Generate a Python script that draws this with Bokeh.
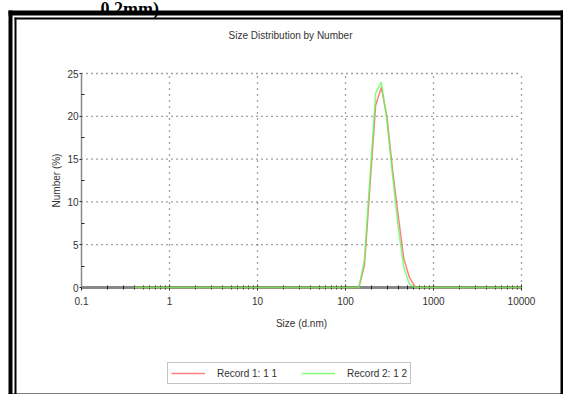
from bokeh.plotting import figure
from bokeh.models import (FixedTicker, CustomJSTickFormatter, Legend, LegendItem,
                          Label, Range1d, ColumnDataSource, BoxAnnotation)
from bokeh.embed import file_html
from bokeh.resources import INLINE

# Size bins (d.nm)
sizes = [0.4, 0.4632, 0.5365, 0.6213, 0.7195, 0.8332, 0.9649, 1.117, 1.294, 1.499,
         1.736, 2.010, 2.328, 2.696, 3.122, 3.615, 4.187, 4.849, 5.615, 6.503,
         7.531, 8.721, 10.10, 11.70, 13.54, 15.69, 18.17, 21.04, 24.36, 28.21,
         32.67, 37.84, 43.82, 50.75, 58.77, 68.06, 78.82, 91.28, 105.7, 122.4,
         141.8, 164.2, 190.1, 220.2, 255.0, 295.3, 342.0, 396.1, 458.7, 531.2,
         615.1, 712.4, 825.0, 955.4, 1106, 1281, 1484, 1718, 1990, 2305,
         2669, 3091, 3580, 4145, 4801, 5560, 6439, 7456, 8635, 10000]

record1 = [0, 0, 0, 0, 0, 0, 0, 0, 0, 0,
           0, 0, 0, 0, 0, 0, 0, 0, 0, 0,
           0, 0, 0, 0, 0, 0, 0, 0, 0, 0,
           0, 0, 0, 0, 0, 0, 0, 0, 0, 0,
           0, 2.6, 12.0, 21.3, 23.4, 20.0, 13.8, 8.5, 3.4, 1.2,
           0.1, 0, 0, 0, 0, 0, 0, 0, 0, 0,
           0, 0, 0, 0, 0, 0, 0, 0, 0, 0]

record2 = [0, 0, 0, 0, 0, 0, 0, 0, 0, 0,
           0, 0, 0, 0, 0, 0, 0, 0, 0, 0,
           0, 0, 0, 0, 0, 0, 0, 0, 0, 0,
           0, 0, 0, 0, 0, 0, 0, 0, 0, 0,
           0, 3.2, 13.0, 22.7, 24.0, 19.5, 13.2, 7.1, 2.4, 0.4,
           0, 0, 0, 0, 0, 0, 0, 0, 0, 0,
           0, 0, 0, 0, 0, 0, 0, 0, 0, 0]

series_labels = ["Record 1: 1 1", "Record 2: 1 2"]
x_ticks = [0.1, 1, 10, 100, 1000, 10000]
y_ticks = [0, 5, 10, 15, 20, 25]
y_minor = [2.5, 7.5, 12.5, 17.5, 22.5]
x_minor = [m * d for d in [0.1, 1, 10, 100, 1000] for m in range(2, 10)]

FONT = "Liberation Sans"
TXT = "#333333"

# layout (pixels): plotting box of the reference inside the 563x394 canvas
W, H = 563, 394
BOX_L, BOX_R, BOX_T, BOX_B = 81, 521, 73, 287
n_dec = len(x_ticks) - 1
px_dec = (BOX_R - BOX_L) / n_dec
px_unit = (BOX_B - BOX_T) / (y_ticks[-1] - y_ticks[0])
x_start = x_ticks[0] * 10 ** (-BOX_L / px_dec)
x_end = x_ticks[-1] * 10 ** ((W - BOX_R) / px_dec)
y_start = y_ticks[0] - (H - BOX_B) / px_unit
y_end = y_ticks[-1] + BOX_T / px_unit

src = ColumnDataSource(dict(size=sizes, r1=record1, r2=record2))

p = figure(width=W, height=H, x_axis_type="log",
           x_range=Range1d(x_start, x_end), y_range=Range1d(y_start, y_end),
           output_backend="svg", toolbar_location=None,
           min_border_left=0, min_border_right=0, min_border_top=0, min_border_bottom=0)
p.outline_line_color = None
p.background_fill_color = "white"
p.border_fill_color = "white"
p.xgrid.visible = False
p.ygrid.visible = False

# dotted grid lines inside the 0..25 / 0.1..10000 box
gx = x_ticks[1:]
p.segment(x0=gx, y0=[y_ticks[0]] * len(gx), x1=gx, y1=[y_ticks[-1]] * len(gx),
          line_color="#444444", line_dash="1 5", line_width=1.3)
gy = y_ticks[1:]
p.segment(x0=[x_ticks[0]] * len(gy), y0=gy, x1=[x_ticks[-1]] * len(gy), y1=gy,
          line_color="#444444", line_dash="1 4", line_width=1.3)

r1 = p.line("size", "r1", source=src, line_color="#ff5555", line_width=1.5, line_alpha=0.75)
r2 = p.line("size", "r2", source=src, line_color="#55ff55", line_width=1.5, line_alpha=0.75)

# x axis at y = 0
xa = p.xaxis[0]
xa.fixed_location = 0
xa.bounds = (x_ticks[0], x_ticks[-1])
xa.level = "underlay"
xa.ticker = FixedTicker(ticks=x_ticks, minor_ticks=x_minor)
xa.formatter = CustomJSTickFormatter(code="return tick.toString();")
xa.axis_line_color = "#888888"
xa.axis_line_width = 3
xa.major_tick_line_color = "#222222"
xa.minor_tick_line_color = "#222222"
xa.major_tick_in = 3
xa.major_tick_out = 3
xa.minor_tick_in = 2
xa.minor_tick_out = 2
xa.major_label_standoff = 6
xa.major_label_text_font = FONT
xa.major_label_text_font_size = "10px"
xa.major_label_text_color = TXT
xa.axis_label = "Size (d.nm)"
xa.axis_label_text_font = FONT
xa.axis_label_text_font_size = "10px"
xa.axis_label_text_font_style = "normal"
xa.axis_label_text_color = TXT
xa.axis_label_standoff = 10

# y axis at x = 0.1
ya = p.yaxis[0]
ya.fixed_location = x_ticks[0]
ya.bounds = (y_ticks[0], y_ticks[-1])
ya.ticker = FixedTicker(ticks=y_ticks, minor_ticks=y_minor)
ya.axis_line_color = "#888888"
ya.axis_line_width = 1.5
ya.major_tick_line_color = "#222222"
ya.minor_tick_line_color = "#222222"
ya.major_tick_in = 0
ya.major_tick_out = 2
ya.minor_tick_in = 3
ya.minor_tick_out = 0
ya.major_label_standoff = 1
ya.major_label_text_font = FONT
ya.major_label_text_font_size = "10px"
ya.major_label_text_color = TXT
ya.axis_label = "Number (%)"
ya.axis_label_text_font = FONT
ya.axis_label_text_font_size = "10px"
ya.axis_label_text_font_style = "normal"
ya.axis_label_text_color = TXT
ya.axis_label_standoff = 2

# chart title
title = Label(x=290, y=H - 35, x_units="screen", y_units="screen",
              text="Size Distribution by Number", text_align="center", text_baseline="middle",
              text_font=FONT, text_font_size="10px", text_color=TXT)
p.add_layout(title)

# cut-off caption of the surrounding page
caption = Label(x=100, y=H - 8, x_units="screen", y_units="screen", text="0.2mm).",
                text_font="Liberation Serif", text_font_size="18px", text_font_style="bold",
                text_color="black", text_baseline="alphabetic")
p.add_layout(caption)

legend = Legend(items=[LegendItem(label=series_labels[0], renderers=[r1]),
                       LegendItem(label=series_labels[1], renderers=[r2])],
                location=(167, 10), orientation="horizontal",
                label_text_font=FONT, label_text_font_size="10px", label_text_color=TXT,
                glyph_width=34, glyph_height=14, label_height=14,
                label_standoff=12, spacing=24, padding=3, margin=0,
                border_line_color="#888888", border_line_width=1.5,
                background_fill_color="white", background_fill_alpha=1)
p.add_layout(legend, "center")

# double frame of the figure box (screen-unit bars, y measured from the bottom)
frame_bars = [
    (8, 12, H - 10, 0),        # left thick
    (14, 16, H - 17, 0),       # left thin
    (8, W, H - 10, H - 15),    # top thick
    (14, W, H - 17, H - 19),   # top thin
    (W - 3, W, H - 10, 0),     # right
    (8, W, 1, 0),              # bottom
]
for l, r, t, b in frame_bars:
    p.add_layout(BoxAnnotation(left=l, right=r, top=t, bottom=b,
                               left_units="screen", right_units="screen",
                               top_units="screen", bottom_units="screen",
                               fill_color="black", fill_alpha=1, line_color=None))

open("out.html", "w").write(file_html(p, INLINE))
